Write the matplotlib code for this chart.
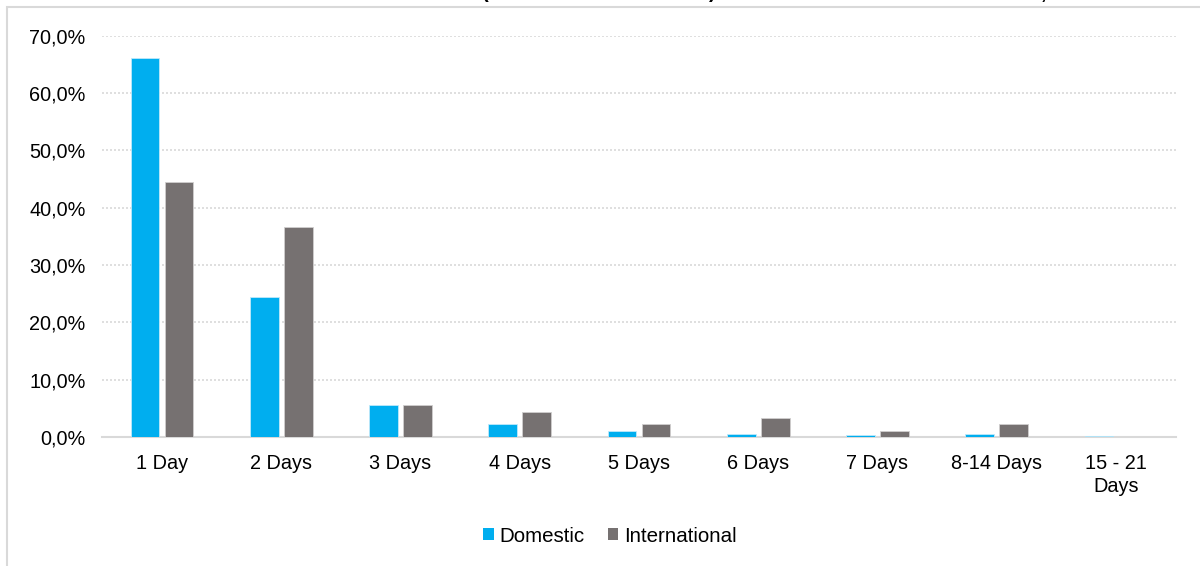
import numpy as np
import matplotlib.pyplot as plt
from matplotlib.patches import Rectangle, Patch
from matplotlib.ticker import FuncFormatter

plt.rcParams['font.family'] = ['Liberation Sans', 'DejaVu Sans']

# length of stay, share of trips (%)
categories = ['1 Day', '2 Days', '3 Days', '4 Days', '5 Days', '6 Days',
              '7 Days', '8-14 Days', '15 - 21\nDays']
domestic = [66.1, 24.4, 5.6, 2.3, 1.05, 0.5, 0.35, 0.5, 0.2]
international = [44.4, 36.6, 5.5, 4.3, 2.2, 3.3, 1.05, 2.2, 0.0]
yticks = [0, 10, 20, 30, 40, 50, 60, 70]

blue = '#00AEEF'
grey = '#767171'
light = '#d9d9d9'

fig = plt.figure(figsize=(12, 5.66), dpi=100)

# outer chart frame (runs off the right and bottom edges)
fig.patches.append(Rectangle((7 / 1200, -0.1), 1.2, 1 - 7 / 566 + 0.1,
                             transform=fig.transFigure, facecolor='none',
                             edgecolor=light, linewidth=1.5))

# tail end of the title above the frame
for xpx, ch in [(485, '('), (712, ')'), (1043, ',')]:
    fig.text(xpx / 1200, 1 + 1.5 / 566, ch, fontsize=14.5, fontweight='bold',
             ha='center', va='baseline')

ax = fig.add_axes([102.4 / 1200, 1 - 437 / 566, 1073.2 / 1200, 401.3 / 566])

x = np.arange(len(categories))
w = 0.24
off = 0.143
ax.bar(x - off, domestic, w, color=blue, edgecolor='#bfe9fa', linewidth=0.6,
       label='Domestic', zorder=3)
ax.bar(x + off, international, w, color=grey, edgecolor='#d0cece', linewidth=0.6,
       label='International', zorder=3)

ax.set_xlim(-0.5, len(categories) - 0.5)
ax.set_ylim(0, 70)
ax.set_yticks(yticks)
ax.yaxis.set_major_formatter(FuncFormatter(lambda v, p: f'{v:.1f}%'.replace('.', ',')))
ax.set_xticks(x)
ax.set_xticklabels(categories)
ax.tick_params(axis='both', length=0, labelsize=14.3)
ax.tick_params(axis='y', pad=12)
ax.tick_params(axis='x', pad=12)
for lbl in ax.get_xticklabels():
    lbl.set_linespacing(1.3)

ax.grid(axis='y', color=light, linestyle=(0, (1.2, 1.2)), linewidth=1.2, zorder=0)
ax.set_axisbelow(True)
for s in ['top', 'right', 'left']:
    ax.spines[s].set_visible(False)
ax.spines['bottom'].set_color(light)
ax.spines['bottom'].set_linewidth(1.5)
ax.spines['bottom'].set_zorder(2)

handles = [Patch(facecolor=blue, label='Domestic'),
           Patch(facecolor=grey, label='International')]
fig.legend(handles=handles, loc='center', bbox_to_anchor=(610 / 1200, 1 - 536 / 566),
           ncol=2, frameon=False, fontsize=14.8, handlelength=0.5,
           handleheight=0.5, handletextpad=0.3, columnspacing=1.1)

fig.savefig('out.png', dpi=100)
